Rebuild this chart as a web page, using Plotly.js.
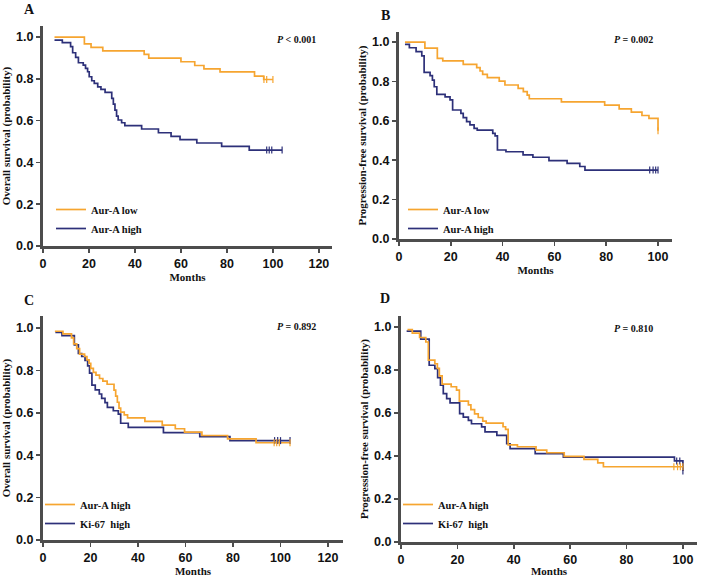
<!DOCTYPE html>
<html>
<head>
<meta charset="utf-8">
<script src="https://cdn.plot.ly/plotly-3.0.1.min.js"></script>
<style>html,body{margin:0;padding:0;background:#fff;}#chart{width:701px;height:577px;}</style>
</head>
<body>
<div id="chart"></div>
<script>
// ---------- DATA ----------
// Panel A: Overall survival, Aur-A low vs Aur-A high
const osAurLowT = [5, 18, 20.9, 26, 44, 46, 60, 66, 70, 77, 92, 96, 100];
const osAurLowS = [1.0, 0.967, 0.951, 0.934, 0.917, 0.899, 0.882, 0.864, 0.848, 0.833, 0.813, 0.797, 0.797];
const osAurLowCens = [96.1, 97.3, 100];

const osAurHighT = [5, 8.4, 12, 12.9, 14.2, 15.4, 17.5, 18.5, 19.4, 20.1, 21.2, 22.3, 23.8, 25.2, 27, 29.9, 30.6, 31.3, 32, 32.7, 34.2, 35.6, 42.9, 50.2, 55.7, 59.6, 66.9, 77.7, 89.7, 104];
const osAurHighS = [0.985, 0.973, 0.954, 0.925, 0.903, 0.877, 0.866, 0.85, 0.834, 0.81, 0.791, 0.778, 0.762, 0.75, 0.735, 0.707, 0.679, 0.65, 0.622, 0.603, 0.59, 0.576, 0.56, 0.542, 0.525, 0.509, 0.493, 0.477, 0.459, 0.459];
const osAurHighCens = [97.3, 98.4, 99.5, 104];

// Panel B: Progression-free survival, Aur-A low vs Aur-A high
const pfsAurLowT = [2.3, 10, 14.8, 16.9, 24.8, 30, 31.3, 32.3, 34.1, 38.7, 40.9, 46, 48, 49.5, 50.3, 62.7, 79.4, 85, 89.7, 93.8, 96.5, 100];
const pfsAurLowS = [1.0, 0.969, 0.917, 0.904, 0.887, 0.87, 0.853, 0.836, 0.819, 0.802, 0.782, 0.765, 0.748, 0.73, 0.712, 0.696, 0.68, 0.661, 0.644, 0.627, 0.612, 0.55];
const pfsAurLowCens = [100];

const pfsAurHighT = [2.3, 4, 6.6, 8.8, 9.7, 12, 12.9, 13.6, 14.6, 17.8, 19.7, 20.7, 23.9, 24.8, 26.1, 27.4, 29, 30.2, 36.2, 37.1, 38, 41.3, 47.9, 51.7, 57.9, 64.9, 69.8, 71.8, 100];
const pfsAurHighS = [0.988, 0.971, 0.951, 0.93, 0.846, 0.829, 0.807, 0.773, 0.734, 0.722, 0.706, 0.655, 0.638, 0.616, 0.596, 0.579, 0.562, 0.553, 0.536, 0.524, 0.452, 0.443, 0.427, 0.415, 0.398, 0.384, 0.368, 0.35, 0.35];
const pfsAurHighCens = [96.8, 98.1, 99.1, 100];

// Panel C: Overall survival, Aur-A high vs Ki-67 high
const osKiHighT = [5.2, 8, 13.2, 14.9, 16.3, 17.7, 18.8, 19.6, 20.6, 22, 23.7, 24.7, 26.1, 27.1, 29.6, 31.7, 32.7, 35.9, 50.7, 66, 78.7, 104];
const osKiHighS = [0.98, 0.964, 0.921, 0.88, 0.866, 0.847, 0.822, 0.787, 0.731, 0.708, 0.689, 0.668, 0.648, 0.626, 0.61, 0.594, 0.551, 0.531, 0.507, 0.488, 0.469, 0.469];
const osKiHighCens = [97.5, 98.8, 100, 104];

// Panel D: Progression-free survival, Aur-A high vs Ki-67 high
const pfsKiHighT = [2, 7, 10, 12, 13, 14, 15, 16.2, 17.4, 20.8, 22.1, 23.9, 25, 28.6, 29.8, 34, 37.5, 38.7, 47.6, 57.6, 97, 100];
const pfsKiHighS = [0.981, 0.943, 0.822, 0.806, 0.764, 0.729, 0.69, 0.667, 0.647, 0.597, 0.581, 0.566, 0.55, 0.535, 0.512, 0.496, 0.457, 0.434, 0.411, 0.395, 0.377, 0.33];
const pfsKiHighCens = [97.8, 98.9, 100];

const panelLetters = ['A', 'B', 'C', 'D'];
const pTexts = ['<i>P</i> &lt; 0.001', '<i>P</i> = 0.002', '<i>P</i> = 0.892', '<i>P</i> = 0.810'];
const yTitles = ['Overall survival (probability)', 'Progression-free survival (probability)', 'Overall survival (probability)', 'Progression-free survival (probability)'];
const xTitle = 'Months';
const yTicks = [0, 0.2, 0.4, 0.6, 0.8, 1.0];

// ---------- STYLE ----------
const ORANGE = '#F6A530';
const NAVY = '#2D3079';
const SERIF = 'Liberation Serif, Times New Roman, serif';
const SANS = 'Liberation Sans, Arial, sans-serif';
const W = 701, H = 577;

function stepVal(T, S, t) {
  let v = S[0];
  for (let i = 0; i < T.length; i++) if (T[i] <= t) v = S[i];
  return v;
}

function curve(T, S, color, name, xa, ya, lg, rank) {
  return {x: T, y: S, type: 'scatter', mode: 'lines', line: {shape: 'hv', color: color, width: 1.7},
          name: name, xaxis: xa, yaxis: ya, legend: lg, legendrank: rank, showlegend: true, hoverinfo: 'skip'};
}
function cens(T, S, C, color, xa, ya) {
  return {x: C, y: C.map(t => stepVal(T, S, t)), type: 'scatter', mode: 'markers',
          marker: {symbol: 'line-ns', size: 5, line: {color: color, width: 1.2}},
          xaxis: xa, yaxis: ya, showlegend: false, hoverinfo: 'skip'};
}

const traces = [
  curve(osAurLowT, osAurLowS, ORANGE, '<b>Aur-A low</b>', 'x', 'y', 'legend', 1),
  curve(osAurHighT, osAurHighS, NAVY, '<b>Aur-A high</b>', 'x', 'y', 'legend', 2),
  cens(osAurLowT, osAurLowS, osAurLowCens, ORANGE, 'x', 'y'),
  cens(osAurHighT, osAurHighS, osAurHighCens, NAVY, 'x', 'y'),

  curve(pfsAurLowT, pfsAurLowS, ORANGE, '<b>Aur-A low</b>', 'x2', 'y2', 'legend2', 1),
  curve(pfsAurHighT, pfsAurHighS, NAVY, '<b>Aur-A high</b>', 'x2', 'y2', 'legend2', 2),
  cens(pfsAurLowT, pfsAurLowS, pfsAurLowCens, ORANGE, 'x2', 'y2'),
  cens(pfsAurHighT, pfsAurHighS, pfsAurHighCens, NAVY, 'x2', 'y2'),

  curve(osKiHighT, osKiHighS, NAVY, '<b>Ki-67  high</b>', 'x3', 'y3', 'legend3', 2),
  curve(osAurHighT, osAurHighS, ORANGE, '<b>Aur-A high</b>', 'x3', 'y3', 'legend3', 1),
  cens(osKiHighT, osKiHighS, osKiHighCens, NAVY, 'x3', 'y3'),
  cens(osAurHighT, osAurHighS, osAurHighCens, ORANGE, 'x3', 'y3'),

  curve(pfsKiHighT, pfsKiHighS, NAVY, '<b>Ki-67  high</b>', 'x4', 'y4', 'legend4', 2),
  curve(pfsAurHighT, pfsAurHighS, ORANGE, '<b>Aur-A high</b>', 'x4', 'y4', 'legend4', 1),
  cens(pfsKiHighT, pfsKiHighS, pfsKiHighCens, NAVY, 'x4', 'y4'),
  cens(pfsAurHighT, pfsAurHighS, pfsAurHighCens, ORANGE, 'x4', 'y4')
];

// panel geometry in pixels: [left, right, top, bottom, xmax, ymax]
const geo = [
  [43, 332, 26, 246, 125.7, 1.053],
  [399, 672, 32, 239, 105.4, 1.051],
  [43, 343, 316, 540, 126.3, 1.057],
  [401, 697, 316, 542, 105.0, 1.051]
];

const tickFont = {family: SANS, size: 12.5, color: '#111', weight: 700};
function xax(g, anchor) {
  return {domain: [g[0] / W, g[1] / W], range: [0, g[4]], anchor: anchor, dtick: 20, tick0: 0,
          showgrid: false, zeroline: false, showline: true, linewidth: 3, linecolor: '#4d4d4d',
          ticks: 'outside', ticklen: 4, tickwidth: 1.5, tickcolor: '#4d4d4d',
          tickfont: tickFont, tickprefix: '<b>', ticksuffix: '</b>',
          title: {text: '<b>' + xTitle + '</b>', font: {family: SERIF, size: 11, color: '#111'}, standoff: 4}};
}
function yax(g, anchor, t) {
  return {domain: [1 - g[3] / H, 1 - g[2] / H], range: [0, g[5]], anchor: anchor,
          tickvals: yTicks, tickformat: '.1f',
          showgrid: false, zeroline: false, showline: true, linewidth: 3, linecolor: '#4d4d4d',
          ticks: 'outside', ticklen: 4, tickwidth: 1.5, tickcolor: '#4d4d4d',
          tickfont: tickFont, tickprefix: '<b>', ticksuffix: '</b>',
          title: {text: '<b>' + t + '</b>', font: {family: SERIF, size: 11, color: '#111'}, standoff: 4}};
}
function leg(px, py) {
  return {x: px / W, y: 1 - py / H, xanchor: 'left', yanchor: 'top', bgcolor: 'rgba(0,0,0,0)',
          borderwidth: 0, itemwidth: 30, tracegroupgap: 0,
          font: {family: SERIF, size: 10.5, color: '#111'}};
}

const letterPos = [[29, 10], [385, 15], [29, 300], [385, 298]];
const pPos = [[318, 40], [655, 40], [318, 326], [655, 328]];
const annotations = [];
for (let i = 0; i < 4; i++) {
  annotations.push({text: '<b>' + panelLetters[i] + '</b>', xref: 'paper', yref: 'paper',
    x: letterPos[i][0] / W, y: 1 - letterPos[i][1] / H, xanchor: 'center', yanchor: 'middle',
    showarrow: false, font: {family: SERIF, size: 14, color: '#111'}});
  annotations.push({text: '<b>' + pTexts[i] + '</b>', xref: 'paper', yref: 'paper',
    x: pPos[i][0] / W, y: 1 - pPos[i][1] / H, xanchor: 'right', yanchor: 'middle',
    showarrow: false, font: {family: SERIF, size: 10, color: '#111'}});
}

const layout = {
  width: W, height: H, margin: {l: 0, r: 0, t: 0, b: 0},
  paper_bgcolor: '#fff', plot_bgcolor: '#fff',
  xaxis: xax(geo[0], 'y'), yaxis: yax(geo[0], 'x', yTitles[0]),
  xaxis2: xax(geo[1], 'y2'), yaxis2: yax(geo[1], 'x2', yTitles[1]),
  xaxis3: xax(geo[2], 'y3'), yaxis3: yax(geo[2], 'x3', yTitles[2]),
  xaxis4: xax(geo[3], 'y4'), yaxis4: yax(geo[3], 'x4', yTitles[3]),
  legend: leg(51, 195), legend2: leg(403, 195), legend3: leg(40, 490), legend4: leg(398, 490),
  annotations: annotations
};

Plotly.newPlot('chart', traces, layout, {staticPlot: true, displayModeBar: false});
</script>
</body>
</html>
